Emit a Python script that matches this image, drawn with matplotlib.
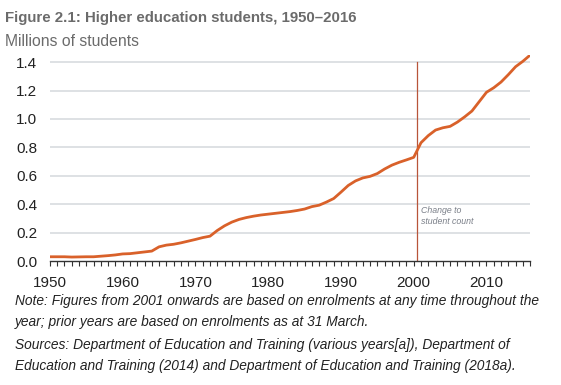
import numpy as np
import matplotlib.pyplot as plt
from matplotlib.ticker import MultipleLocator

plt.rcParams['font.family'] = ['Liberation Sans', 'DejaVu Sans']

years = list(range(1950, 2017))
students = [0.030, 0.030, 0.030, 0.028, 0.029, 0.030, 0.030, 0.034, 0.038, 0.043,
            0.050, 0.052, 0.058, 0.064, 0.070, 0.100, 0.112, 0.118, 0.128, 0.140,
            0.152, 0.165, 0.175, 0.215, 0.248, 0.274, 0.293, 0.306, 0.316, 0.324,
            0.330, 0.336, 0.342, 0.348, 0.356, 0.366, 0.383, 0.393, 0.415, 0.440,
            0.485, 0.532, 0.564, 0.585, 0.596, 0.616, 0.648, 0.675, 0.695, 0.712,
            0.730, 0.833, 0.883, 0.922, 0.938, 0.948, 0.978, 1.015, 1.056, 1.122,
            1.188, 1.220, 1.260, 1.312, 1.368, 1.406, 1.450]

yticks = [0.0, 0.2, 0.4, 0.6, 0.8, 1.0, 1.2, 1.4]
xticks = [1950, 1960, 1970, 1980, 1990, 2000, 2010]

fig = plt.figure(figsize=(5.61, 3.85), dpi=100)
ax = fig.add_axes([0.089, 0.322, 0.856, 0.535])

for v in yticks[1:]:
    ax.axhline(v, color='#d5d9dd', lw=1.1, zorder=1)

ax.plot([2000.5, 2000.5], [0, 1.4], color='#b8553a', lw=0.9, zorder=2)
ax.plot(years, students, color='#d9612a', lw=2.0, zorder=3, solid_joinstyle='round')

ax.text(2001.0, 0.32, 'Change to\nstudent count', fontsize=6.3, style='italic',
        color='#7a7f88', va='center', ha='left', linespacing=1.3)

ax.set_xlim(1950, 2016)
ax.set_ylim(0, 1.45)
ax.set_xticks(xticks)
ax.xaxis.set_minor_locator(MultipleLocator(1))
ax.set_yticks(yticks)
ax.set_yticklabels(['%.1f' % v for v in yticks])

for s in ['top', 'right', 'left']:
    ax.spines[s].set_visible(False)
ax.spines['bottom'].set_color('#333333')
ax.spines['bottom'].set_linewidth(1.0)
ax.tick_params(axis='x', which='both', direction='out', length=3.5, width=0.8,
               color='#333333', labelsize=11, labelcolor='#222222', pad=7)
ax.tick_params(axis='y', length=0, labelsize=11, labelcolor='#222222', pad=9)

fig.text(0.009, 0.952, 'Figure 2.1: Higher education students, 1950\u20132016',
         fontsize=10.8, fontweight='bold', color='#6b6b6b', va='center')
fig.text(0.009, 0.893, 'Millions of students', fontsize=11.3, color='#6b6b6b', va='center')

notes = ['Note: Figures from 2001 onwards are based on enrolments at any time throughout the',
         'year; prior years are based on enrolments as at 31 March.',
         'Sources: Department of Education and Training (various years[a]), Department of',
         'Education and Training (2014) and Department of Education and Training (2018a).']
ypos = [301, 322, 345, 366]
for t, yp in zip(notes, ypos):
    fig.text(15 / 561, 1 - yp / 385, t, fontsize=9.9, style='italic', color='#222222', va='center')

fig.savefig('out.png', dpi=100)
